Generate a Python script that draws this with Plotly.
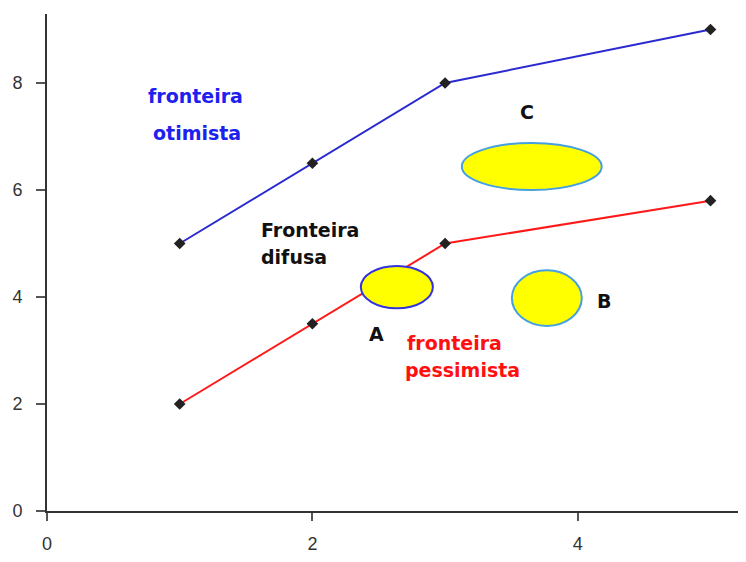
import plotly.graph_objects as go

x_vals = [1, 2, 3, 5]
otimista = [5, 6.5, 8, 9]
pessimista = [2, 3.5, 5, 5.8]

x_ticks = [0, 2, 4]
y_ticks = [0, 2, 4, 6, 8]

# regions (ellipses): name, x0, x1, y0, y1
region_names = ["A", "B", "C"]
region_x0 = [2.365, 3.503, 3.126]
region_x1 = [2.908, 4.03, 4.18]
region_y0 = [3.79, 3.46, 6.0]
region_y1 = [4.58, 4.50, 6.88]
region_border = ["#3333dd", "#44a0e0", "#44a0e0"]

fig = go.Figure()
fig.add_trace(go.Scatter(x=x_vals, y=otimista, mode="lines+markers",
                         line=dict(color="#2a2ad0", width=2),
                         marker=dict(symbol="diamond", size=9, color="#222222"),
                         showlegend=False))
fig.add_trace(go.Scatter(x=x_vals, y=pessimista, mode="lines+markers",
                         line=dict(color="#ff1a1a", width=2),
                         marker=dict(symbol="diamond", size=9, color="#222222"),
                         showlegend=False))

for i in range(len(region_names)):
    fig.add_shape(type="circle", xref="x", yref="y",
                  x0=region_x0[i], x1=region_x1[i], y0=region_y0[i], y1=region_y1[i],
                  fillcolor="#ffff00", line=dict(color=region_border[i], width=2),
                  layer="above")

bold = "DejaVu Sans"
annots = [
    ("fronteira", 1.122, 7.76, "#2020ee", "center"),
    ("otimista", 1.13, 7.07, "#2020ee", "center"),
    ("Fronteira", 1.597, 5.25, "#111111", "left"),
    ("difusa", 1.597, 4.75, "#111111", "left"),
    ("C", 3.62, 7.46, "#111111", "center"),
    ("B", 4.196, 3.925, "#111111", "center"),
    ("A", 2.486, 3.31, "#111111", "center"),
    ("fronteira", 3.073, 3.14, "#ff1010", "center"),
    ("pessimista", 3.134, 2.64, "#ff1010", "center"),
]
for t, ax, ay, c, xa in annots:
    fig.add_annotation(x=ax, y=ay, text="<b>%s</b>" % t, showarrow=False,
                       xanchor=xa, yanchor="middle",
                       font=dict(family=bold, size=19, color=c))

fig.update_xaxes(range=[0, 5.26], tickvals=x_ticks, showgrid=False, zeroline=False,
                 showline=True, linecolor="#333333", linewidth=2,
                 ticks="outside", ticklen=8, tickwidth=2, tickcolor="#555555",
                 ticklabelstandoff=7,
                 tickfont=dict(family="Liberation Sans", size=18, color="#333333"))
fig.update_yaxes(range=[0, 9.29], tickvals=y_ticks, showgrid=False, zeroline=False,
                 showline=True, linecolor="#333333", linewidth=2,
                 ticks="outside", ticklen=9, tickwidth=2, tickcolor="#555555",
                 ticklabelstandoff=10,
                 tickfont=dict(family="Liberation Sans", size=18, color="#333333"))
fig.update_layout(width=738, height=546, margin=dict(l=39, r=1, t=6, b=43),
                  plot_bgcolor="white", paper_bgcolor="white")
fig.write_html("out.html")
